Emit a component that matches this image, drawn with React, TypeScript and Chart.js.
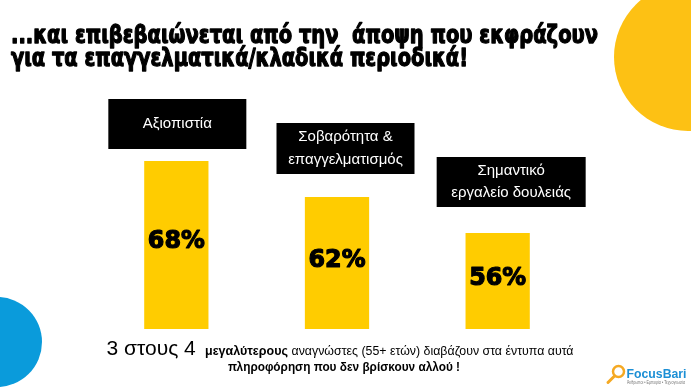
import React, { useEffect, useRef } from "react";
import { Chart, registerables } from "chart.js";

Chart.register(...registerables);

// ---- data ----
const TITLE_LINES = [
  "...και επιβεβαιώνεται από την  άποψη που εκφράζουν",
  "για τα επαγγελματικά/κλαδικά περιοδικά!",
];
const CATEGORIES = [
  ["Αξιοπιστία"],
  ["Σοβαρότητα &", "επαγγελματισμός"],
  ["Σημαντικό", "εργαλείο δουλειάς"],
];
const VALUES = [68, 62, 56];
const Y_MIN = 40;
const Y_MAX = 80;
const FOOT_BIG = "3 στους 4";
const FOOT_BOLD = "μεγαλύτερους";
const FOOT_REST = "αναγνώστες (55+ ετών) διαβάζουν στα έντυπα αυτά";
const FOOT_LINE2 = "πληροφόρηση που δεν βρίσκουν αλλού !";
const LOGO_NAME = "FocusBari";
const LOGO_TAG = "Άνθρωποι • Εμπειρία • Τεχνογνωσία";

// ---- layout / style ----
const W = 691;
const H = 388;
const BAR_COLOR = "#FFCC00";
const BOXES = [
  { w: 138, h: 50, dx: 1, gap: 12 },
  { w: 138, h: 51, dx: 8.5, gap: 23 },
  { w: 149, h: 50, dx: 13.5, gap: 26 },
];

const decorPlugin = {
  id: "decor",
  beforeDraw(chart: any) {
    const ctx = chart.ctx as CanvasRenderingContext2D;
    ctx.save();
    ctx.fillStyle = "#ffffff";
    ctx.fillRect(0, 0, W, H);
    // decorative circles
    ctx.fillStyle = "#FDC114";
    ctx.beginPath();
    ctx.arc(688, 57, 74, 0, Math.PI * 2);
    ctx.fill();
    ctx.fillStyle = "#0A9BDB";
    ctx.beginPath();
    ctx.arc(-3, 342, 45, 0, Math.PI * 2);
    ctx.fill();
    // title
    ctx.fillStyle = "#000";
    ctx.strokeStyle = "#000";
    ctx.lineWidth = 1.3;
    ctx.lineJoin = "round";
    ctx.textBaseline = "alphabetic";
    ctx.textAlign = "left";
    ctx.font = "bold 24px 'DejaVu Sans'";
    ctx.fillText(TITLE_LINES[0], 11, 43, 587);
    ctx.strokeText(TITLE_LINES[0], 11, 43, 587);
    ctx.fillText(TITLE_LINES[1], 11, 66, 457);
    ctx.strokeText(TITLE_LINES[1], 11, 66, 457);
    // footer
    ctx.font = "21px 'Liberation Sans'";
    ctx.fillText(FOOT_BIG, 106.5, 355);
    ctx.font = "bold 12.5px 'Liberation Sans'";
    ctx.fillText(FOOT_BOLD, 205, 355, 83);
    ctx.font = "12.5px 'Liberation Sans'";
    ctx.fillText(FOOT_REST, 291.5, 355, 282);
    ctx.font = "bold 13px 'Liberation Sans'";
    ctx.fillText(FOOT_LINE2, 228, 371, 232);
    // logo
    ctx.strokeStyle = "#F5A923";
    ctx.lineWidth = 2.5;
    ctx.beginPath();
    ctx.arc(618.5, 371.5, 5.5, 0, Math.PI * 2);
    ctx.stroke();
    ctx.lineWidth = 3;
    ctx.lineCap = "round";
    ctx.beginPath();
    ctx.moveTo(614.5, 376);
    ctx.lineTo(608, 382.5);
    ctx.stroke();
    ctx.fillStyle = "#1C8FD5";
    ctx.font = "bold 13.5px 'Liberation Sans'";
    ctx.fillText(LOGO_NAME, 626.5, 377.5, 60);
    ctx.fillStyle = "#777";
    ctx.font = "4.5px 'Liberation Sans'";
    ctx.fillText(LOGO_TAG, 627, 383.5, 58);
    ctx.restore();
  },
  afterDatasetsDraw(chart: any) {
    const ctx = chart.ctx as CanvasRenderingContext2D;
    const meta = chart.getDatasetMeta(0);
    const areaBottom = chart.chartArea.bottom;
    ctx.save();
    meta.data.forEach((bar: any, i: number) => {
      const p = bar.getProps(["x", "y", "base"], true);
      const base = Math.min(p.base, areaBottom);
      // value label
      ctx.fillStyle = "#000";
      ctx.strokeStyle = "#000";
      ctx.lineWidth = 1.2;
      ctx.lineJoin = "round";
      ctx.textAlign = "center";
      ctx.textBaseline = "middle";
      ctx.font = "bold 24px 'DejaVu Sans'";
      const ly = p.y + (base - p.y) * 0.48;
      ctx.fillText(VALUES[i] + "%", p.x, ly, 57);
      ctx.strokeText(VALUES[i] + "%", p.x, ly, 57);
      // category box
      const b = BOXES[i];
      const cx = p.x + b.dx;
      const bottom = p.y - b.gap;
      const top = bottom - b.h;
      ctx.fillStyle = "#000";
      ctx.fillRect(cx - b.w / 2, top, b.w, b.h);
      ctx.fillStyle = "#fff";
      ctx.font = "15px 'Liberation Sans'";
      const lines = CATEGORIES[i];
      const mid = top + b.h / 2;
      const lh = 22.5;
      lines.forEach((ln, k) => {
        const yy = mid + (k - (lines.length - 1) / 2) * lh;
        ctx.fillText(ln, cx, yy, b.w - 8);
      });
    });
    ctx.restore();
  },
};

export default function App() {
  const ref = useRef<HTMLCanvasElement | null>(null);
  useEffect(() => {
    document.body.style.margin = "0";
    document.body.style.overflow = "hidden";
    if (!ref.current) return;
    const chart = new Chart(ref.current, {
      type: "bar",
      data: {
        labels: CATEGORIES as any,
        datasets: [
          {
            data: VALUES,
            backgroundColor: BAR_COLOR,
            borderWidth: 0,
            barPercentage: 0.4,
            categoryPercentage: 1,
          },
        ],
      },
      options: {
        responsive: false,
        maintainAspectRatio: false,
        animation: false,
        devicePixelRatio: 1,
        layout: { padding: { left: 96, right: 113, top: 89, bottom: 59 } },
        plugins: {
          legend: { display: false },
          tooltip: { enabled: false },
          title: { display: false },
        },
        scales: {
          x: { display: false },
          y: { display: false, min: Y_MIN, max: Y_MAX },
        },
      },
      plugins: [decorPlugin],
    });
    return () => chart.destroy();
  }, []);
  return (
    <div style={{ position: "absolute", left: 0, top: 0, width: W, height: H, background: "#fff" }}>
      <canvas ref={ref} width={W} height={H} style={{ width: W, height: H, display: "block" }} />
    </div>
  );
}
